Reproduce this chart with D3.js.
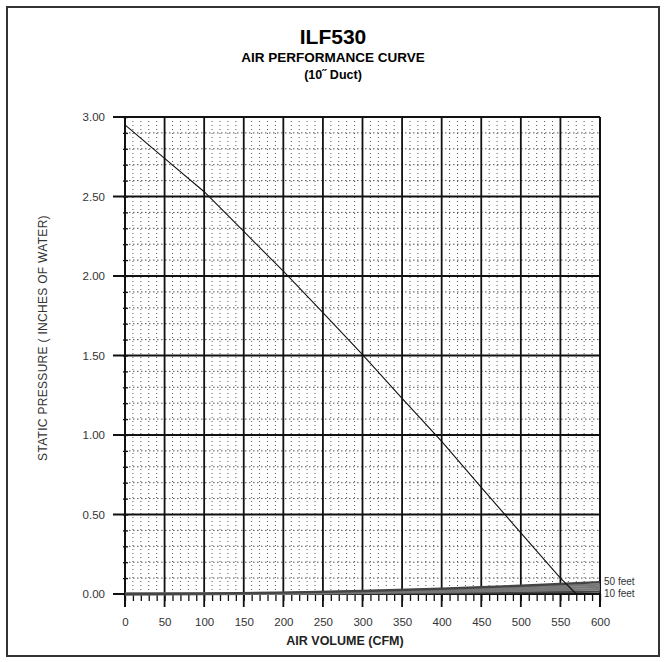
<!DOCTYPE html>
<html><head><meta charset="utf-8">
<script src="https://cdn.jsdelivr.net/npm/d3@7"></script>
<style>
html,body{margin:0;padding:0;background:#fff;}
svg{display:block;font-family:"Liberation Sans",Arial,sans-serif;}
</style></head>
<body>
<svg id="c" width="666" height="662"></svg>
<script>
// ---- data ----
const titleLines = ["ILF530", "AIR PERFORMANCE CURVE", "(10\u02DD Duct)"];
const xLabel = "AIR VOLUME (CFM)";
const yLabel = "STATIC PRESSURE ( INCHES OF WATER)";
const xMajorTicks = [0,50,100,150,200,250,300,350,400,450,500,550,600];
const yMajorTicks = [0,0.5,1,1.5,2,2.5,3];
const yTickLabels = ["0.00","0.50","1.00","1.50","2.00","2.50","3.00"];
// fan curve (CFM, in. w.g.)
const fanCFM = [0,50,100,150,200,250,300,350,400,450,500,550,570];
const fanSP  = [2.95,2.74,2.53,2.28,2.03,1.77,1.505,1.23,0.96,0.67,0.385,0.10,0.0];
// system curves (duct length, SP at 600 CFM)
const ductLengths = ["10 feet","20 feet","30 feet","40 feet","50 feet"];
const ductSPat600 = [0.015,0.03,0.045,0.06,0.075];
const ductCFM = [0,100,200,300,400,450,500,550,600];

// ---- layout ----
const svg = d3.select("#c");
const L=125, R=600, T=117, B=594;
const x = d3.scaleLinear().domain([0,600]).range([L,R]);
const y = d3.scaleLinear().domain([0,3]).range([B,T]);

// outer frame
svg.append("rect").attr("x",7).attr("y",7).attr("width",652).attr("height",649)
  .attr("fill","none").attr("stroke","#333").attr("stroke-width",2);

// titles
svg.append("text").attr("x",333).attr("y",44).attr("text-anchor","middle")
  .attr("font-size",21).attr("font-weight","bold").text(titleLines[0]);
svg.append("text").attr("x",333).attr("y",62).attr("text-anchor","middle")
  .attr("font-size",13.5).attr("font-weight","bold").text(titleLines[1]);
svg.append("text").attr("x",333).attr("y",79).attr("text-anchor","middle")
  .attr("font-size",12.5).attr("font-weight","bold").text(titleLines[2]);

// minor grid
const xMinor = d3.range(0,601,10).filter(v=>v%50!==0);
const yMinor = d3.range(1,30).map(v=>v/10).filter(v=>Math.round(v*10)%5!==0);
const g = svg.append("g");
g.selectAll(".vm").data(xMinor).join("line")
  .attr("x1",d=>x(d)).attr("x2",d=>x(d)).attr("y1",T).attr("y2",B)
  .attr("stroke","#555").attr("stroke-width",1).attr("stroke-dasharray","1,3");
g.selectAll(".hm").data(yMinor).join("line")
  .attr("x1",L).attr("x2",R).attr("y1",d=>y(d)).attr("y2",d=>y(d))
  .attr("stroke","#555").attr("stroke-width",1).attr("stroke-dasharray","1.5,2.5");

// axes (ticks)
const yAxisMinor = d3.axisLeft(y).tickValues(d3.range(0,31).map(v=>v/10)).tickSize(5).tickFormat("");
svg.append("g").attr("transform",`translate(${L+3},0)`).call(yAxisMinor)
  .call(s=>s.select(".domain").remove())
  .selectAll("line").attr("stroke","#111").attr("stroke-width",1.3);
const xAxisMinor = d3.axisBottom(x).tickValues(d3.range(0,601,10)).tickSize(7).tickFormat("");
svg.append("g").attr("transform",`translate(0,${B})`).call(xAxisMinor)
  .call(s=>s.select(".domain").remove())
  .selectAll("line").attr("stroke","#111").attr("stroke-width",1.3);

// major grid
g.selectAll(".vM").data(xMajorTicks).join("line")
  .attr("x1",d=>x(d)).attr("x2",d=>x(d)).attr("y1",T).attr("y2",B+13)
  .attr("stroke","#111").attr("stroke-width",d=>(d===0||d===600)?2:1.8);
g.selectAll(".hM").data(yMajorTicks).join("line")
  .attr("x1",L-12).attr("x2",R).attr("y1",d=>y(d)).attr("y2",d=>y(d))
  .attr("stroke","#111").attr("stroke-width",2);

// tick labels
const yAxis = d3.axisLeft(y).tickValues(yMajorTicks).tickSize(0).tickPadding(20)
  .tickFormat((d,i)=>yTickLabels[i]);
svg.append("g").attr("transform",`translate(${L},0)`).call(yAxis)
  .call(s=>s.select(".domain").remove())
  .selectAll("text").attr("font-size",11.5).attr("fill","#333")
  .attr("font-family","'Liberation Sans',Arial,sans-serif");
const xAxis = d3.axisBottom(x).tickValues(xMajorTicks).tickSize(0).tickPadding(24);
svg.append("g").attr("transform",`translate(0,${B})`).call(xAxis)
  .call(s=>s.select(".domain").remove())
  .selectAll("text").attr("font-size",11.5).attr("fill","#333")
  .attr("font-family","'Liberation Sans',Arial,sans-serif");

// axis labels
svg.append("text").attr("x",345).attr("y",645).attr("text-anchor","middle")
  .attr("font-size",12.5).attr("font-weight","bold").attr("fill","#222").text(xLabel);
svg.append("text").attr("transform","translate(47,338) rotate(-90)").attr("text-anchor","middle")
  .attr("font-size",12).attr("fill","#333").attr("letter-spacing",0.3).text(yLabel);

// system curves
const line = d3.line().x(d=>x(d[0])).y(d=>y(d[1]));
ductSPat600.forEach((k,i)=>{
  const pts = ductCFM.map(q=>[q, k*Math.pow(q/600,2)]);
  svg.append("path").attr("d",line(pts)).attr("fill","none")
    .attr("stroke", i===0||i===4 ? "#444" : "#777").attr("stroke-width",2.4);
});
svg.append("text").attr("x",604).attr("y",y(0.075)+3).attr("font-size",10).attr("fill","#333").text("50 feet");
svg.append("text").attr("x",604).attr("y",y(0.015)+5).attr("font-size",10).attr("fill","#333").text("10 feet");

// fan curve
svg.append("path").attr("d",line(fanCFM.map((q,i)=>[q,fanSP[i]])))
  .attr("fill","none").attr("stroke","#111").attr("stroke-width",1.1);
</script>
</body></html>
